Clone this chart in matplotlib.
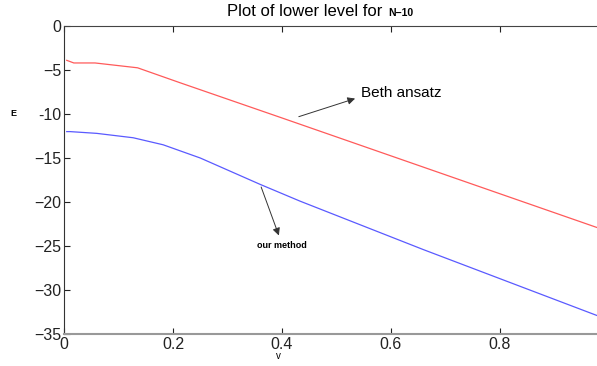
import matplotlib
matplotlib.use("Agg")
import matplotlib.pyplot as plt

plt.rcParams['font.family'] = ['Liberation Sans', 'DejaVu Sans']

# Bethe ansatz curve (red)
v_beth = [0.005, 0.018, 0.057, 0.135, 0.213, 0.4, 0.978]
e_beth = [-3.9, -4.2, -4.2, -4.75, -6.45, -10.45, -22.9]

# our method curve (blue)
v_ours = [0.005, 0.011, 0.06, 0.127, 0.182, 0.25, 0.36, 0.433, 0.659, 0.978]
e_ours = [-12.0, -12.0, -12.2, -12.7, -13.5, -15.0, -18.0, -19.9, -25.4, -32.9]

xticks = [0, 0.2, 0.4, 0.6, 0.8]
yticks = [0, -5, -10, -15, -20, -25, -30, -35]

fig = plt.figure(figsize=(5.97, 3.66), dpi=100)
ax = fig.add_axes([64/597, 1 - 334/366, 1 - 64/597, (334 - 26)/366])

ax.plot(v_beth, e_beth, color="#ff5a5a", lw=0.9)
ax.plot(v_ours, e_ours, color="#5a5aff", lw=0.9)

ax.set_xlim(0, 0.978)
ax.set_ylim(-35, 0)
ax.set_xticks(xticks)
ax.set_xticklabels(["0", "0.2", "0.4", "0.6", "0.8"])
ax.set_yticks(yticks)
ax.set_yticklabels(["0", "\u22125", "-10", "\u221215", "\u221220", "\u221225", "\u221230", "\u221235"])
ax.tick_params(direction="in", length=4, width=0.8, labelsize=11.5, pad=2,
               top=True, colors="#222222")
ax.spines["right"].set_visible(False)
ax.spines["bottom"].set_color("#999999")
ax.spines["bottom"].set_linewidth(1.5)
ax.spines["left"].set_color("#333333")
ax.spines["top"].set_color("#444444")

arrow = dict(arrowstyle="-|>", color="#333333", lw=0.7, mutation_scale=11)
ax.annotate("", xy=(0.539, -8.15), xytext=(0.426, -10.4), arrowprops=arrow)
ax.text(0.545, -7.6, "Beth ansatz", fontsize=11, va="center", ha="left")
ax.annotate("", xy=(0.396, -24.1), xytext=(0.36, -18.0), arrowprops=arrow)
ax.text(0.4, -25.0, "our method", fontsize=6.5, fontweight="bold",
        va="center", ha="center")

fig.text(382/597, 1 - 12/366, "Plot of lower level for", fontsize=12,
         ha="right", va="center")
fig.text(388/597, 1 - 13/366, "N\u221210", fontsize=7.5, fontweight="bold",
         ha="left", va="center")
fig.text(13/597, 1 - 114/366, "E", fontsize=6.5, fontweight="bold",
         ha="center", va="center")
fig.text(278/597, 1 - 356/366, "v", fontsize=7, ha="center", va="center")

fig.savefig("out.png", dpi=100)
